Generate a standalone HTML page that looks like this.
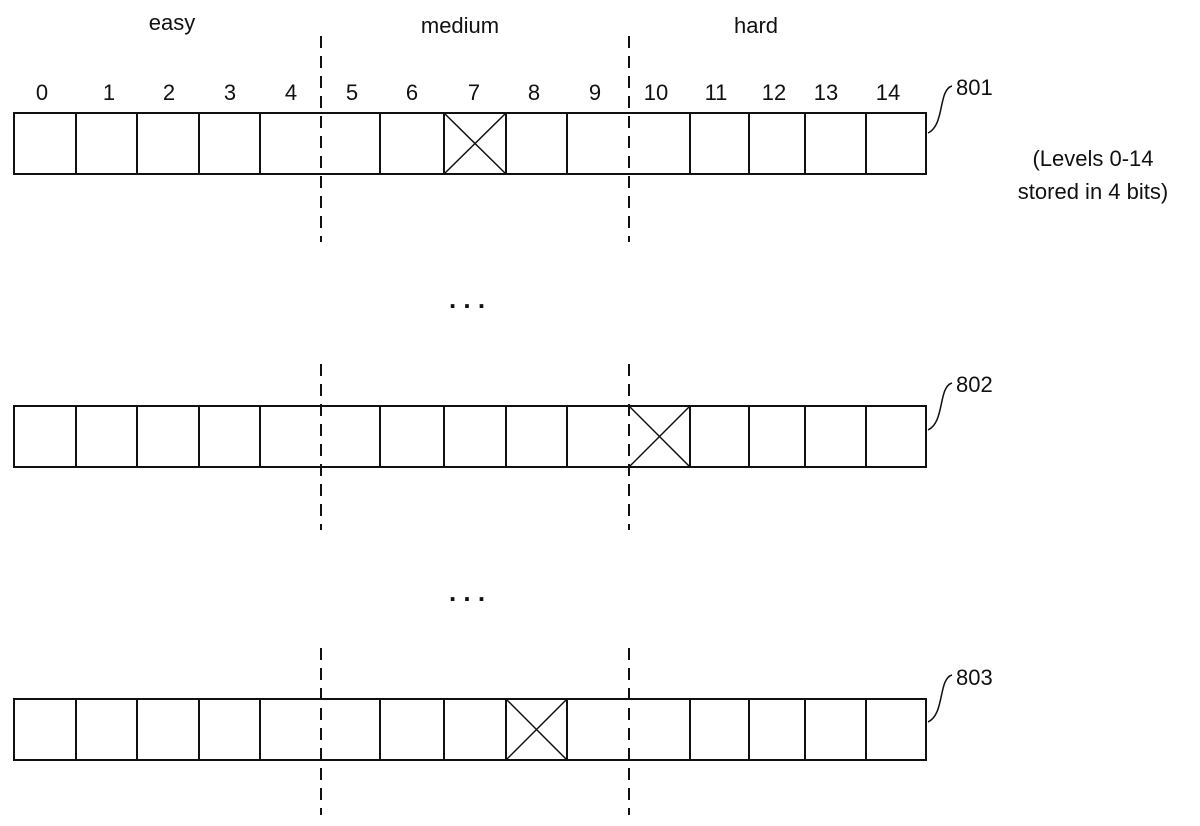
<!DOCTYPE html>
<html><head><meta charset="utf-8"><style>
html,body{margin:0;padding:0;background:#fff;}
svg{display:block;}
text{font-family:"Liberation Sans",Arial,sans-serif;fill:#111;}
</style></head><body>
<svg width="1200" height="826" viewBox="0 0 1200 826" xmlns="http://www.w3.org/2000/svg">
<g font-size="22" text-anchor="middle">
<text x="172" y="30">easy</text>
<text x="460" y="33">medium</text>
<text x="756" y="33">hard</text>
<text x="42" y="100">0</text><text x="109" y="100">1</text><text x="169" y="100">2</text><text x="230" y="100">3</text><text x="291" y="100">4</text>
<text x="352" y="100">5</text><text x="412" y="100">6</text><text x="474" y="100">7</text><text x="534" y="100">8</text><text x="595" y="100">9</text>
<text x="656" y="100">10</text><text x="716" y="100">11</text><text x="774" y="100">12</text><text x="826" y="100">13</text><text x="888" y="100">14</text>
<text x="1093" y="166">(Levels 0-14</text>
<text x="1093" y="199">stored in 4 bits)</text>
<text x="467" y="308" font-size="26" font-weight="bold">. . .</text>
<text x="467" y="601" font-size="26" font-weight="bold">. . .</text>
</g>
<g font-size="22">
<text x="956" y="95">801</text>
<text x="956" y="392">802</text>
<text x="956" y="685">803</text>
</g>
<g fill="none" stroke="#111" stroke-width="2">
<rect x="14" y="113" width="912" height="61"/>
<path d="M76 113V174M137 113V174M199 113V174M260 113V174M380 113V174M444 113V174M506 113V174M567 113V174M690 113V174M749 113V174M805 113V174M866 113V174"/>
<rect x="14" y="406" width="912" height="61"/>
<path d="M76 406V467M137 406V467M199 406V467M260 406V467M380 406V467M444 406V467M506 406V467M567 406V467M690 406V467M749 406V467M805 406V467M866 406V467"/>
<rect x="14" y="699" width="912" height="61"/>
<path d="M76 699V760M137 699V760M199 699V760M260 699V760M380 699V760M444 699V760M506 699V760M567 699V760M690 699V760M749 699V760M805 699V760M866 699V760"/>
</g>
<g fill="none" stroke="#111" stroke-width="1.5">
<path d="M444 113L506 174M506 113L444 174"/>
<path d="M629 406L690 467M690 406L629 467"/>
<path d="M506 699L567 760M567 699L506 760"/>
<path d="M928 133C945 125 938 90 952 86"/>
<path d="M928 430C945 422 938 387 952 383"/>
<path d="M928 722C945 714 938 679 952 675"/>
</g>
<g stroke="#111" stroke-width="2" stroke-dasharray="12,8" fill="none">
<path d="M321 36V242M629 36V242"/>
<path d="M321 364V530M629 364V530"/>
<path d="M321 648V815M629 648V815"/>
</g>
</svg>
</body></html>
